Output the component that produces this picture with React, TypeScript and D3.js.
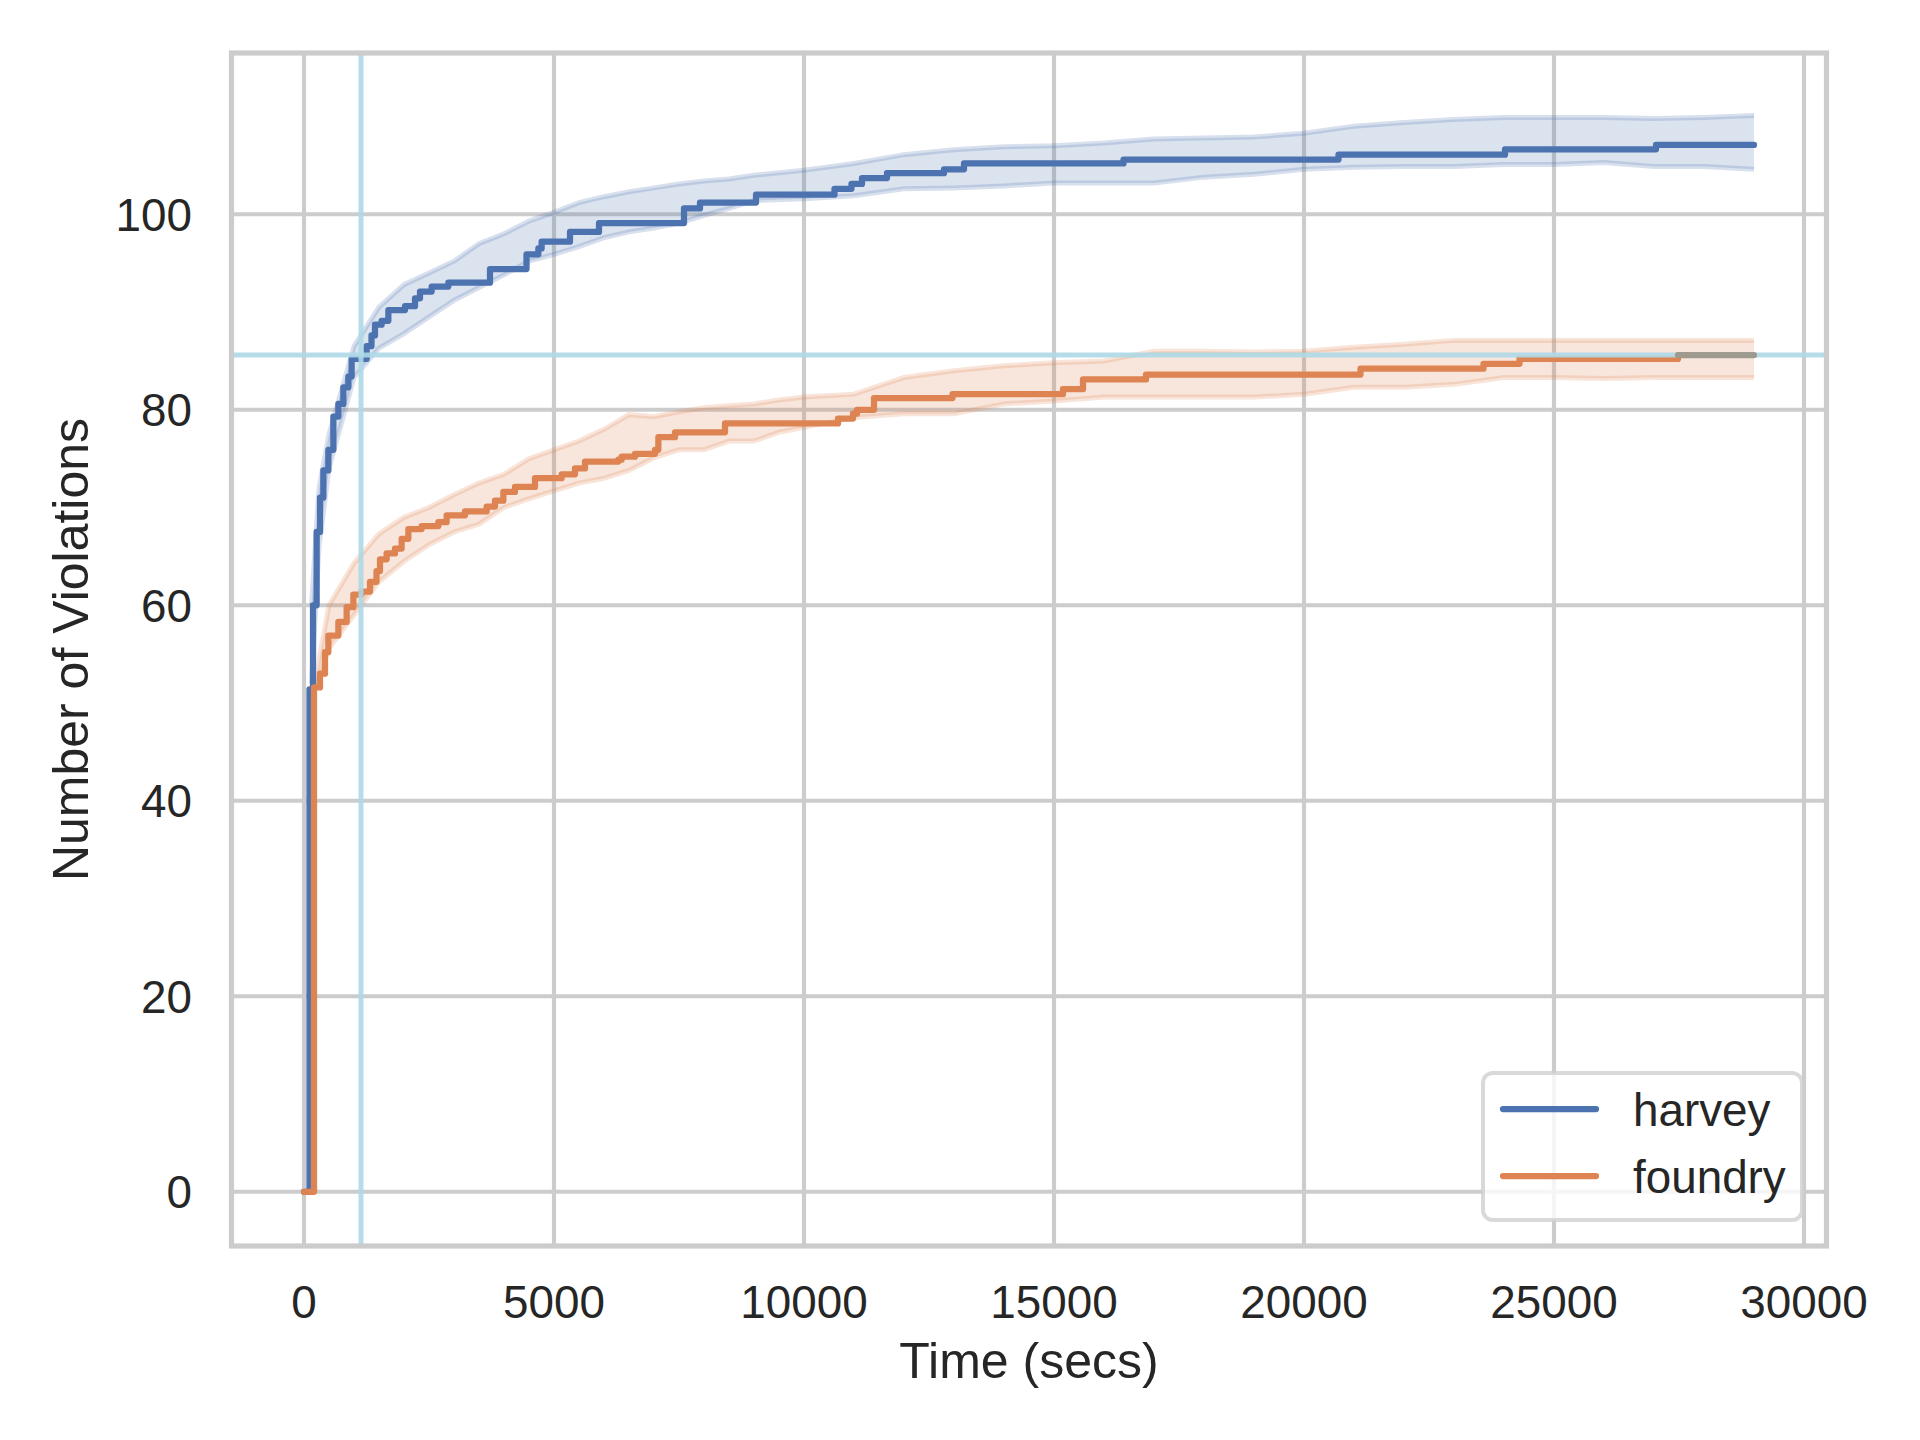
import React, { useEffect, useRef } from 'react';
import * as d3 from 'd3';

// step points [time, violations]
const harvey: [number, number][] = [
  [0, 0], [110, 51.4], [180, 60], [253, 67.5], [320, 71], [387, 73.8], [487, 75.9],
  [587, 79.3], [687, 80.6], [787, 82.3], [887, 83.4], [953, 85.2], [1253, 86.5], [1350, 87.6],
  [1420, 88.7], [1553, 89.1], [1687, 90.2], [2020, 90.6], [2220, 91.4], [2320, 92.1], [2553, 92.6],
  [2887, 93.0], [3720, 94.4], [4450, 95.9], [4687, 96.5], [4753, 97.2], [5320, 98.2], [5900, 99.1],
  [7600, 100.6], [7920, 101.2], [9040, 102.0], [10610, 102.6], [10950, 103.1], [11160, 103.7],
  [11660, 104.2], [12800, 104.6], [13200, 105.2], [16390, 105.6], [20690, 106.1], [24020, 106.65],
  [27040, 107.1], [29000, 107.1],
];

const foundry: [number, number][] = [
  [0, 0], [200, 51.6], [320, 53.0], [420, 55.2], [487, 56.9], [687, 58.3], [853, 59.8], [987, 61.1],
  [1153, 61.4], [1320, 62.4], [1450, 63.5], [1520, 64.7], [1653, 65.3], [1820, 65.8], [1953, 66.8],
  [2087, 67.8], [2353, 68.1], [2687, 68.5], [2853, 69.2], [3220, 69.6], [3653, 70.1], [3820, 70.7],
  [3987, 71.6], [4220, 72.1], [4620, 73.0], [5153, 73.4], [5420, 74.0], [5620, 74.7], [6287, 74.9],
  [6353, 75.2], [6620, 75.5], [7020, 75.9], [7087, 77.2], [7420, 77.7], [8420, 78.6], [10680, 79.1],
  [10980, 79.6], [11060, 80.0], [11400, 81.2], [12970, 81.6], [15180, 82.1], [15580, 83.1],
  [16840, 83.6], [21130, 84.2], [23590, 84.7], [24310, 85.2], [27480, 85.6],
];
const foundryTail: [number, number][] = [[27480, 85.6], [29000, 85.6]];

// spread of the runs (envelope)
const harveyBandT = [150, 300, 500, 1000, 1500, 2000, 2500, 3000, 3500, 4000, 4500, 5000, 5500, 6000, 6500,
  7000, 7500, 8000, 8500, 9000, 10000, 11000, 12000, 13000, 14000, 15000, 16000, 17000, 18000, 19000,
  20000, 21000, 22000, 23000, 24000, 25000, 26000, 27000, 28000, 29000];
const harveyUpper = [60, 72, 77.5, 86.5, 90.5, 92.8, 94.0, 95.2, 97.0, 98.0, 99.3, 100.2, 101.2, 101.8, 102.3,
  102.7, 103.1, 103.4, 103.6, 104.0, 104.5, 105.2, 106.1, 106.6, 106.9, 107.0, 107.3, 107.7, 107.8, 107.9,
  108.3, 109.0, 109.4, 109.7, 109.9, 109.9, 109.9, 109.8, 109.9, 110.1];
const harveyLower = [52, 66, 74, 83.3, 86.3, 87.8, 89.5, 91.2, 92.5, 93.8, 95.2, 95.9, 96.7, 97.6, 98.2,
  98.6, 99.1, 99.9, 100.6, 101.4, 101.6, 101.9, 102.6, 102.7, 102.9, 103.2, 103.2, 103.2, 103.8, 104.1,
  104.6, 104.8, 104.9, 104.9, 105.1, 105.1, 105.3, 104.9, 104.9, 104.6];

const foundryBandT = [200, 250, 500, 1000, 1500, 2000, 2500, 3000, 3500, 4000, 4500, 5000, 5500, 6000, 6500,
  7000, 7500, 8000, 8500, 9000, 9500, 10000, 11000, 12000, 13000, 14000, 15000, 16000, 17000, 18000,
  19000, 20000, 21000, 22000, 23000, 24000, 25000, 26000, 27000, 28000, 29000];
const foundryUpper = [51.6, 53, 60, 64.3, 67.3, 69.0, 70.0, 71.3, 72.5, 73.4, 75.0, 75.9, 76.8, 78.0, 79.5,
  79.3, 79.8, 80.2, 80.4, 80.6, 81.0, 81.3, 81.6, 83.3, 84.0, 84.5, 84.8, 85.0, 86.0, 86.0,
  85.9, 86.0, 86.4, 86.7, 87.1, 87.1, 87.1, 87.1, 87.1, 87.1, 87.1];
const foundryLower = [51.4, 51.6, 55.6, 59.0, 62.4, 64.5, 66.2, 67.5, 68.3, 70.0, 70.9, 71.7, 72.5, 73.0, 73.8,
  75.1, 75.9, 75.9, 76.8, 76.8, 77.7, 78.2, 79.2, 79.6, 79.6, 80.6, 80.9, 81.3, 81.3, 81.3,
  81.3, 81.6, 82.3, 82.3, 82.6, 83.3, 83.3, 83.2, 83.3, 83.3, 83.3];

const refTime = 1140;
const refViolations = 85.6;

const xTicks = [0, 5000, 10000, 15000, 20000, 25000, 30000];
const yTicks = [0, 20, 40, 60, 80, 100];
const seriesNames = ['harvey', 'foundry'];

const BLUE = '#4c72b0';
const ORANGE = '#dd8452';
const CYAN = '#add8e6';
const GRID = '#cccccc';
const TEXT = '#262626';
const FONT = '"Liberation Sans", Arial, sans-serif';

const App = () => {
  const ref = useRef<SVGSVGElement>(null);

  useEffect(() => {
    const svg = d3.select(ref.current);
    svg.selectAll('*').remove();

    const margin = { left: 231.5, right: 1826.5, top: 53, bottom: 1246 };
    const x = d3.scaleLinear().domain([-1450, 30450]).range([margin.left, margin.right]);
    const y = d3.scaleLinear().domain([-5.55, 116.5]).range([margin.bottom, margin.top]);

    svg.append('rect').attr('width', 1920).attr('height', 1440).attr('fill', 'white');

    const grid = svg.append('g');
    grid.selectAll('.gx').data(xTicks.filter((t) => t <= 30450)).enter().append('line')
      .attr('x1', (d) => x(d)).attr('x2', (d) => x(d))
      .attr('y1', margin.top).attr('y2', margin.bottom)
      .attr('stroke', GRID).attr('stroke-width', 4.17);
    grid.selectAll('.gy').data(yTicks).enter().append('line')
      .attr('y1', (d) => y(d)).attr('y2', (d) => y(d))
      .attr('x1', margin.left).attr('x2', margin.right)
      .attr('stroke', GRID).attr('stroke-width', 4.17);

    const plot = svg.append('g');

    const drawBand = (ts: number[], up: number[], lo: number[], color: string) => {
      const pts = ts.map((t, i) => ({ t, u: up[i], l: lo[i] }));
      const area = d3.area<{ t: number; u: number; l: number }>()
        .x((d) => x(d.t)).y0((d) => y(d.l)).y1((d) => y(d.u));
      plot.append('path').attr('d', area(pts)).attr('fill', color).attr('fill-opacity', 0.2);
      const edge = (k: 'u' | 'l') =>
        d3.line<{ t: number; u: number; l: number }>().x((d) => x(d.t)).y((d) => y(d[k]))(pts);
      ['u', 'l'].forEach((k) => {
        plot.append('path').attr('d', edge(k as 'u' | 'l')).attr('fill', 'none')
          .attr('stroke', color).attr('stroke-opacity', 0.22).attr('stroke-width', 5);
      });
    };
    drawBand(harveyBandT, harveyUpper, harveyLower, BLUE);
    drawBand(foundryBandT, foundryUpper, foundryLower, ORANGE);

    const step = d3.line<[number, number]>().x((d) => x(d[0])).y((d) => y(d[1])).curve(d3.curveStepAfter);
    const drawLine = (data: [number, number][], color: string) =>
      plot.append('path').attr('d', step(data)).attr('fill', 'none').attr('stroke', color)
        .attr('stroke-width', 6.25).attr('stroke-linecap', 'round').attr('stroke-linejoin', 'round');
    drawLine(harvey, BLUE);
    drawLine(foundry, ORANGE);

    // reference lines
    plot.append('line').attr('x1', x(refTime)).attr('x2', x(refTime))
      .attr('y1', margin.top).attr('y2', margin.bottom)
      .attr('stroke', CYAN).attr('stroke-width', 5).attr('stroke-opacity', 0.9);
    plot.append('line').attr('y1', y(refViolations)).attr('y2', y(refViolations))
      .attr('x1', margin.left).attr('x2', margin.right)
      .attr('stroke', CYAN).attr('stroke-width', 5).attr('stroke-opacity', 0.9);

    drawLine(foundryTail, '#9e9b8e');

    // spines
    svg.append('rect').attr('x', margin.left).attr('y', margin.top)
      .attr('width', margin.right - margin.left).attr('height', margin.bottom - margin.top)
      .attr('fill', 'none').attr('stroke', GRID).attr('stroke-width', 5.2);

    // tick labels
    svg.append('g').selectAll('text').data(xTicks).enter().append('text')
      .attr('x', (d) => x(d)).attr('y', 1318)
      .attr('text-anchor', 'middle').attr('font-family', FONT).attr('font-size', 45.8)
      .attr('fill', TEXT).text((d) => String(d));
    svg.append('g').selectAll('text').data(yTicks).enter().append('text')
      .attr('x', 192).attr('y', (d) => y(d) + 16.5)
      .attr('text-anchor', 'end').attr('font-family', FONT).attr('font-size', 45.8)
      .attr('fill', TEXT).text((d) => String(d));

    svg.append('text').attr('x', (margin.left + margin.right) / 2).attr('y', 1378)
      .attr('text-anchor', 'middle').attr('font-family', FONT).attr('font-size', 50)
      .attr('fill', TEXT).text('Time (secs)');
    svg.append('text')
      .attr('transform', `translate(88,${(margin.top + margin.bottom) / 2}) rotate(-90)`)
      .attr('text-anchor', 'middle').attr('font-family', FONT).attr('font-size', 50)
      .attr('fill', TEXT).text('Number of Violations');

    // legend
    const legend = svg.append('g');
    legend.append('rect').attr('x', 1483).attr('y', 1073).attr('width', 319).attr('height', 147)
      .attr('rx', 10).attr('fill', 'white').attr('fill-opacity', 0.8)
      .attr('stroke', '#d0d0d0').attr('stroke-opacity', 0.8).attr('stroke-width', 4);
    const legendColors = [BLUE, ORANGE];
    seriesNames.forEach((name, i) => {
      const ly = 1109 + i * 67;
      legend.append('line').attr('x1', 1503).attr('x2', 1596).attr('y1', ly).attr('y2', ly)
        .attr('stroke', legendColors[i]).attr('stroke-width', 6.25).attr('stroke-linecap', 'round');
      legend.append('text').attr('x', 1633).attr('y', ly + 17)
        .attr('font-family', FONT).attr('font-size', 45.8).attr('fill', TEXT).text(name);
    });
  }, []);

  return (
    <svg
      ref={ref}
      width={1920}
      height={1440}
      style={{ position: 'absolute', left: 0, top: 0, display: 'block' }}
    />
  );
};

export default App;
